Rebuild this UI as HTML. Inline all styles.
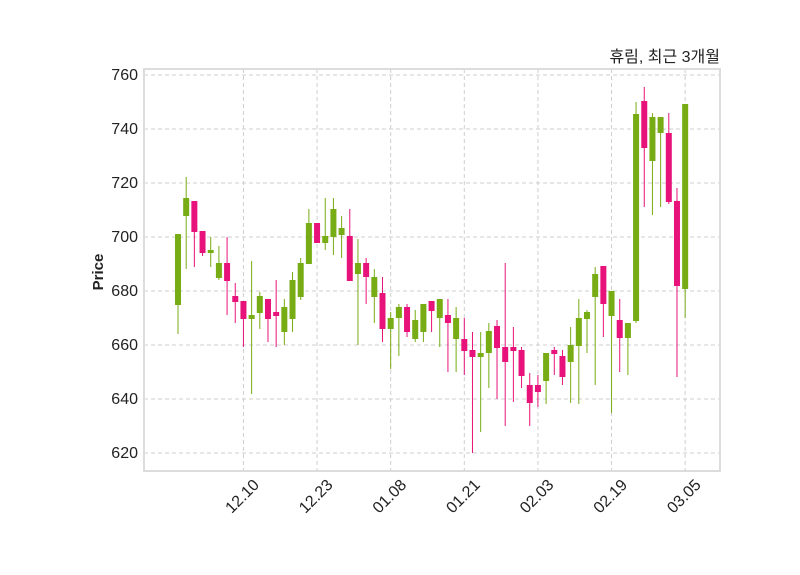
<!DOCTYPE html>
<html><head><meta charset="utf-8"><style>
html,body{margin:0;padding:0;background:#fff;}
svg{display:block;font-family:"Liberation Sans","Noto Sans CJK KR",sans-serif;}
</style></head><body>
<svg id="s" width="800" height="575" viewBox="0 0 800 575" xmlns="http://www.w3.org/2000/svg">
<rect x="0" y="0" width="800" height="575" fill="#fff"/>
<g id="grid" stroke="#cfcfcf" stroke-width="1" stroke-dasharray="4,3"></g>
<g id="candles"></g>
<rect x="144" y="69" width="576" height="402" fill="none" stroke="#dcdcdc" stroke-width="2"/>
<g id="labels" font-size="15" fill="#222"></g>
<text x="720" y="62" text-anchor="end" font-size="16" fill="#222">휴림, 최근 3개월</text>
<text transform="translate(103,272) rotate(-90)" text-anchor="middle" font-size="15" font-weight="bold" fill="#222">Price</text>
</svg>
<script>
var d=[
[234,305,234,334,'g'],[198,216,177,269,'g'],[201,232,201,267,'r'],[231,253,231,256,'r'],[250,253,237,267,'g'],
[263,278,246,280,'g'],[263,281,237,315,'r'],[296,302,283,323,'r'],[301,319,301,347,'r'],[315,319,261,394,'g'],
[296,313,292,329,'g'],[299,319,299,342,'r'],[312,316,280,347,'r'],[307,332,299,345,'g'],[280,319,272,332,'g'],
[263,297,258,300,'g'],[223,264,209,264,'g'],[223,243,223,243,'r'],[236,243,198,250,'g'],[209,237,198,255,'g'],
[228,235,216,258,'g'],[236,281,209,281,'r'],[263,274,239,345,'g'],[263,277,258,304,'r'],[277,297,269,323,'g'],
[293,329,277,342,'r'],[318,329,312,369,'g'],[307,318,304,356,'g'],[307,332,304,337,'r'],[320,339,310,342,'g'],
[304,332,304,342,'g'],[301,311,301,332,'r'],[299,318,299,347,'g'],[315,323,299,372,'r'],[318,339,307,372,'g'],
[339,351,318,375,'r'],[350,357,332,453,'r'],[353,357,332,432,'g'],[331,353,323,388,'g'],[326,348,320,399,'r'],
[347,362,263,426,'r'],[347,351,327,402,'r'],[350,376,347,388,'r'],[385,403,373,426,'r'],[385,392,375,407,'r'],
[353,381,353,404,'g'],[350,354,347,375,'r'],[356,377,350,385,'r'],[345,362,327,403,'g'],[318,346,299,404,'g'],
[312,319,310,353,'g'],[274,297,267,385,'g'],[266,304,266,337,'r'],[291,316,291,413,'g'],[320,338,299,372,'r'],
[323,338,323,375,'g'],[114,321,102,323,'g'],[101,148,87,207,'r'],[117,161,113,215,'g'],[117,133,117,207,'g'],
[133,202,113,204,'r'],[201,286,188,377,'r'],[104,289,104,318,'g']];
var ns="http://www.w3.org/2000/svg";
function el(p,t,a,txt){var e=document.createElementNS(ns,t);for(var k in a)e.setAttribute(k,a[k]);if(txt)e.textContent=txt;p.appendChild(e);return e;}
var G=document.getElementById('grid'),C=document.getElementById('candles'),L=document.getElementById('labels');
for(var v=620;v<=760;v+=20){var y=75+(760-v)*2.7;el(G,'line',{x1:144,x2:720,y1:y,y2:y});
el(L,'text',{x:138,y:y+5,'text-anchor':'end','font-size':16},String(v));}
var tl=['12.10','12.23','01.08','01.21','02.03','02.19','03.05'];
for(var i=0;i<7;i++){var x=178+(8+9*i)*8.18;el(G,'line',{x1:x,x2:x,y1:69,y2:471});
el(L,'text',{transform:'translate('+(x-0.5)+',497) rotate(-45)','text-anchor':'middle','dominant-baseline':'middle','font-size':16},tl[i]);}
for(var i=0;i<d.length;i++){var c=d[i],x=178+i*8.18,col=c[4]=='g'?'#77ac14':'#e8137a';
el(C,'line',{x1:x,x2:x,y1:c[2],y2:c[3],stroke:col,'stroke-width':1});
el(C,'rect',{x:x-3,y:c[0],width:6,height:Math.max(2,c[1]-c[0]),fill:col});}
</script>
</body></html>
